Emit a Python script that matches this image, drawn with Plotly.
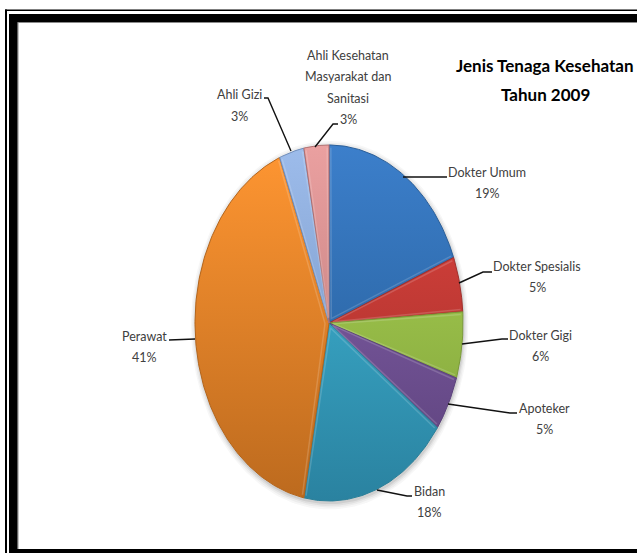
import numpy as np
import plotly.graph_objects as go

# Workforce shares, clockwise from twelve o'clock
categories = ["Dokter Umum", "Dokter Spesialis", "Dokter Gigi", "Apoteker", "Bidan",
              "Perawat", "Ahli Gizi", "Ahli Kesehatan<br>Masyarakat dan<br>Sanitasi"]
shares = [19, 5, 6, 5, 18, 41, 3, 3]
title_lines = ["Jenis Tenaga Kesehatan", "Tahun 2009"]

# Fill colours: top of pie, bottom of pie, outline
slice_top = ["#3C7FCB", "#E0453F", "#ADD655", "#8A66B2", "#42BCDC", "#FF9632", "#9DBCEB", "#EAA0A0"]
slice_bottom = ["#22588F", "#9C2C28", "#7E9F39", "#5A4079", "#2A82A0", "#BC6A1E", "#6E8DBB", "#B57373"]
slice_edge = ["#2A5F9A", "#A0302C", "#7A9A38", "#5C437C", "#2B8099", "#B4651B", "#6F8DBB", "#B07070"]

W, H = 637, 553
CX, CY, RX, RY = 329, 323, 134, 178

# Label anchor (centre x, first-line y) in page pixels
label_pos = [(487, 172), (537, 266), (540, 335), (544, 408), (429, 491),
             (144, 336), (239, 95), (348, 55)]
# Leader polylines in page pixels
leaders = [
    [(403, 177), (447, 177)],
    [(459, 283), (483, 272), (492, 272)],
    [(462, 344), (502, 339), (508, 339)],
    [(448, 404), (510, 413), (517, 413)],
    [(377, 490), (407, 496), (412, 496)],
    [(195, 339), (169, 340)],
    [(291, 151), (268, 98), (264, 98)],
    [(315, 147), (333, 124), (338, 124)],
]
LINE_STEP = 21.5
TEXT_FONT = "Lato, sans-serif"


def px(x):
    return x / W


def py(y):
    return 1 - y / H


fig = go.Figure()

# Soft shadow under the pie
for grow, alpha in [(1.035, 0.04), (1.025, 0.05), (1.015, 0.07), (1.006, 0.10)]:
    t = np.linspace(0, 2 * np.pi, 240)
    fig.add_trace(go.Scatter(x=grow * np.sin(t) + 0.005, y=grow * np.cos(t) - 0.012, mode="lines",
                             line=dict(width=0), fill="toself",
                             fillcolor=f"rgba(60,60,60,{alpha})", hoverinfo="skip", showlegend=False))

# Wedges, drawn as filled arcs on unit axes stretched into an ellipse
edges = np.cumsum([0] + shares) / sum(shares) * 2 * np.pi
for i, name in enumerate(categories):
    a0, a1 = edges[i], edges[i + 1]
    t = np.linspace(a0, a1, max(8, int(shares[i] * 4)))
    x = np.r_[0, np.sin(t), 0]
    y = np.r_[0, np.cos(t), 0]
    fig.add_trace(go.Scatter(
        x=x, y=y, mode="lines", name=name.replace("<br>", " "),
        line=dict(color=slice_edge[i], width=1), fill="toself",
        fillgradient=dict(type="vertical", start=-1, stop=1,
                          colorscale=[[0, slice_bottom[i]], [1, slice_top[i]]]),
        hoverinfo="name", showlegend=False))

# Bevel highlight along the radial edges of each wedge
for i in range(len(shares)):
    a0, a1 = edges[i], edges[i + 1]
    inset = 0.014
    mid = (a0 + a1) / 2
    hub = 0.03
    r = 0.985
    x = [r * np.sin(a0 + inset), hub * np.sin(mid), r * np.sin(a1 - inset)]
    y = [r * np.cos(a0 + inset), hub * np.cos(mid), r * np.cos(a1 - inset)]
    fig.add_trace(go.Scatter(x=x, y=y, mode="lines", line=dict(color="rgba(255,255,255,0.16)", width=1.5),
                             hoverinfo="skip", showlegend=False))

annotations = []


def add_text(text, x, y, size, color, bold=False):
    annotations.append(dict(text=f"<b>{text}</b>" if bold else text, xref="paper", yref="paper",
                            x=px(x), y=py(y), xanchor="center", yanchor="middle", showarrow=False,
                            font=dict(family=TEXT_FONT, size=size, color=color)))


for name, share, (lx, ly) in zip(categories, shares, label_pos):
    lines = name.split("<br>") + [f"{share}%"]
    for k, line in enumerate(lines):
        add_text(line, lx, ly + k * LINE_STEP, 12.5, "#404040")

for k, line in enumerate(title_lines):
    add_text(line, 545, 65 + k * 29, 17, "#000000", bold=True)

shapes = []
for pts in leaders:
    path = "M " + " L ".join(f"{px(a)},{py(b)}" for a, b in pts)
    shapes.append(dict(type="path", xref="paper", yref="paper", path=path,
                       line=dict(color="#111111", width=1.4)))

# Double-rule page frame, open on the right, with a grey inner edge
frame = [
    (17.5, 22, 18.5, H, "#8a8a8a"), (17.5, 22, W, 23, "#8a8a8a"),
    (5, 9.5, 7, H, "#000000"), (5, 9.5, W, 11, "#000000"),
    (9, 14, 17.5, H, "#000000"), (9, 14, W, 22, "#000000"), (9, 549, W, H, "#000000"),
]
for x0, y0, x1, y1, colour in frame:
    shapes.append(dict(type="rect", xref="paper", yref="paper", x0=px(x0), x1=px(x1),
                       y0=py(y0), y1=py(y1), fillcolor=colour, line=dict(width=0)))

fig.update_layout(
    width=W, height=H, margin=dict(l=0, r=0, t=0, b=0), autosize=False,
    paper_bgcolor="white", plot_bgcolor="white", showlegend=False,
    xaxis=dict(range=[-CX / RX, (W - CX) / RX], visible=False, fixedrange=True),
    yaxis=dict(range=[(CY - H) / RY, CY / RY], visible=False, fixedrange=True),
    annotations=annotations, shapes=shapes,
)

fig.write_html("out.html", config={"displayModeBar": False})
